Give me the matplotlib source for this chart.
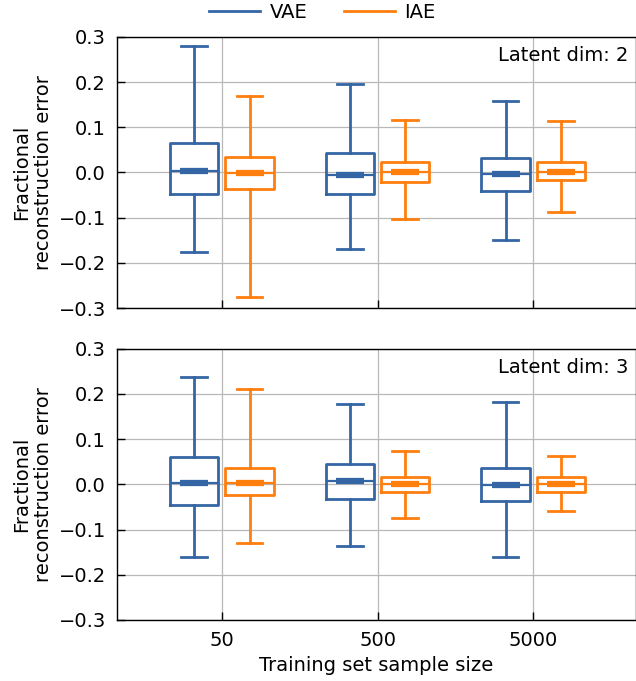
import numpy as np
import matplotlib.pyplot as plt

sizes = ['50', '500', '5000']
models = ['VAE', 'IAE']
colors = {'VAE': '#3465a4', 'IAE': '#ff7f0e'}
latent_dims = [2, 3]

# per panel, per model: whisker low, q1, median, q3, whisker high (one entry per sample size)
lo = {2: {'VAE': [-0.175, -0.169, -0.150], 'IAE': [-0.276, -0.102, -0.088]},
      3: {'VAE': [-0.161, -0.136, -0.160], 'IAE': [-0.129, -0.074, -0.059]}}
q1 = {2: {'VAE': [-0.047, -0.047, -0.042], 'IAE': [-0.037, -0.021, -0.017]},
      3: {'VAE': [-0.046, -0.033, -0.038], 'IAE': [-0.024, -0.018, -0.016]}}
med = {2: {'VAE': [0.003, -0.005, -0.004], 'IAE': [-0.001, 0.001, 0.001]},
       3: {'VAE': [0.003, 0.007, -0.002], 'IAE': [0.003, 0.000, 0.001]}}
q3 = {2: {'VAE': [0.065, 0.044, 0.033], 'IAE': [0.035, 0.024, 0.023]},
      3: {'VAE': [0.061, 0.045, 0.037], 'IAE': [0.037, 0.017, 0.016]}}
hi = {2: {'VAE': [0.281, 0.196, 0.159], 'IAE': [0.170, 0.117, 0.113]},
      3: {'VAE': [0.237, 0.177, 0.182], 'IAE': [0.211, 0.074, 0.063]}}

plt.rcParams['font.size'] = 14

fig = plt.figure(figsize=(6.36, 6.81), dpi=100)
ax_top = fig.add_axes([0.184, 0.5477, 0.816, 0.398])
ax_bot = fig.add_axes([0.184, 0.0896, 0.816, 0.3985], sharex=ax_top)

x = np.arange(len(sizes))
offsets = {'VAE': -0.178, 'IAE': 0.178}

for ax, dim in zip([ax_top, ax_bot], latent_dims):
    ax.grid(True, color='#b8b8b8', lw=0.9, zorder=0)
    for m in models:
        stats = []
        for i in range(len(sizes)):
            stats.append({'whislo': lo[dim][m][i], 'q1': q1[dim][m][i], 'med': med[dim][m][i],
                          'q3': q3[dim][m][i], 'whishi': hi[dim][m][i],
                          'mean': med[dim][m][i], 'fliers': []})
        c = colors[m]
        ax.bxp(stats, positions=x + offsets[m], widths=0.31, showmeans=True,
               showfliers=False, capwidths=0.165,
               boxprops=dict(color=c, lw=2.0),
               whiskerprops=dict(color=c, lw=2.0),
               capprops=dict(color=c, lw=2.0),
               medianprops=dict(color=c, lw=1.6),
               meanprops=dict(marker='_', markersize=20, markeredgewidth=4.5,
                              markeredgecolor=c))
    ax.set_ylim(-0.3, 0.3)
    ax.set_yticks([-0.3, -0.2, -0.1, 0.0, 0.1, 0.2, 0.3])
    ax.set_yticklabels(['\u22120.3', '\u22120.2', '\u22120.1', '0.0', '0.1', '0.2', '0.3'])
    ax.set_ylabel('Fractional\nreconstruction error')
    ax.tick_params(direction='in', length=6, width=1.0, pad=8)
    ax.text(0.985, 0.965, 'Latent dim: %d' % dim, transform=ax.transAxes,
            ha='right', va='top')
    for s in ax.spines.values():
        s.set_linewidth(1.0)

ax_bot.set_xticks(x)
ax_bot.set_xticklabels(sizes)
ax_bot.set_xlim(-0.673, 2.66)
ax_bot.set_xlabel('Training set sample size')
ax_top.tick_params(labelbottom=False)

handles = [plt.Line2D([], [], color=colors[m], lw=2) for m in models]
fig.legend(handles, models, loc='upper center', bbox_to_anchor=(0.507, 1.022),
           ncol=2, frameon=False, handlelength=2.6, handletextpad=0.5,
           columnspacing=1.9)

fig.savefig('out.png', dpi=100)
